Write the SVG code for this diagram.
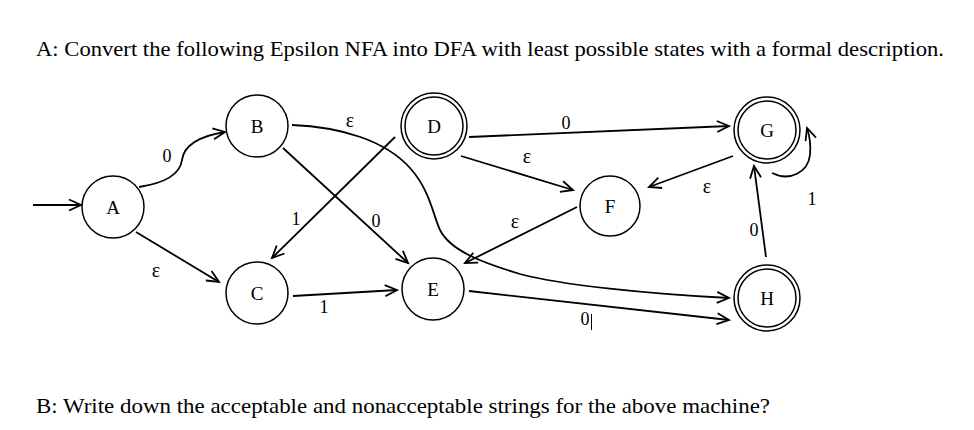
<svg xmlns="http://www.w3.org/2000/svg" width="974" height="430" viewBox="0 0 974 430">
<defs>
<marker id="arr" markerUnits="userSpaceOnUse" markerWidth="16" markerHeight="16" refX="13" refY="6" orient="auto" viewBox="0 0 16 12">
<path d="M1,0.5 L13,6 L1,11.5" fill="none" stroke="#000" stroke-width="1.8"/>
</marker>
<style>
.n{fill:#fff;stroke:#000;stroke-width:1.5}
.e{fill:none;stroke:#000;stroke-width:1.8;marker-end:url(#arr)}
.t{font-family:"Liberation Serif","Times New Roman",serif;font-size:19px;fill:#000;text-anchor:middle}
.l{font-family:"Liberation Serif","Times New Roman",serif;font-size:18px;fill:#000;text-anchor:middle}
.ep{font-size:20px}
.h{font-family:"Liberation Serif","Times New Roman",serif;font-size:21px;fill:#000}
</style>
</defs>
<rect width="974" height="430" fill="#fff"/>
<text class="h" x="36" y="56" textLength="908" lengthAdjust="spacingAndGlyphs">A: Convert the following Epsilon NFA into DFA with least possible states with a formal description.</text>
<text class="h" x="36" y="413" textLength="734" lengthAdjust="spacingAndGlyphs">B: Write down the acceptable and nonacceptable strings for the above machine?</text>
<g id="connectors">
<path class="e" d="M33,205 L81,205"/>
<path class="e" d="M139,187 C165,183 180,175 182,160 C184,145 200,136 225,132"/>
<path class="e" d="M136,232 L219,282"/>
<path class="e" d="M283,148 L408,263"/>
<path class="e" d="M395,137 L272,258"/>
<path class="e" d="M292,125 C340,127 385,140 410,168 C430,190 433,215 440,230 C450,250 480,262 520,274 C560,285 650,294 729,298"/>
<path class="e" d="M469,137 L729,126"/>
<path class="e" d="M461,156 L573,190"/>
<path class="e" d="M577,207 L465,263"/>
<path class="e" d="M733,156 L649,187"/>
<path class="e" d="M293,296 L397,290"/>
<path class="e" d="M469,291 L729,320"/>
<path class="e" d="M766,257 L754,166"/>
<path class="e" d="M772,173 C790,182 808,172 810,155 C811,145 810,137 807,128"/>
<text class="l" x="167" y="162">0</text>
<text class="l ep" x="156" y="277">ε</text>
<text class="l" x="296" y="225">1</text>
<text class="l ep" x="350" y="127">ε</text>
<text class="l" x="376" y="227">0</text>
<text class="l" x="324" y="313">1</text>
<text class="l" x="566" y="129">0</text>
<text class="l ep" x="527" y="163">ε</text>
<text class="l ep" x="515" y="228">ε</text>
<text class="l ep" x="707" y="193">ε</text>
<text class="l" x="754" y="236">0</text>
<text class="l" x="812" y="205">1</text>
<text class="l" x="585" y="325">0</text>
<line x1="591.5" y1="314" x2="591.5" y2="330" stroke="#000" stroke-width="1"/>
</g>
<g id="A"><circle class="n" cx="113" cy="207" r="31"/><text class="t" x="113" y="214">A</text></g>
<g id="B"><circle class="n" cx="257" cy="126" r="31"/><text class="t" x="257" y="133">B</text></g>
<g id="C"><circle class="n" cx="257" cy="293" r="31"/><text class="t" x="257" y="300">C</text></g>
<g id="D"><circle class="n" cx="434" cy="126" r="33"/><circle class="n" cx="434" cy="126" r="29"/><text class="t" x="434" y="133">D</text></g>
<g id="E"><circle class="n" cx="433" cy="289" r="31"/><text class="t" x="433" y="296">E</text></g>
<g id="F"><circle class="n" cx="610" cy="206" r="30"/><text class="t" x="610" y="213">F</text></g>
<g id="G"><circle class="n" cx="767" cy="130" r="33"/><circle class="n" cx="767" cy="130" r="29"/><text class="t" x="767" y="137">G</text></g>
<g id="H"><circle class="n" cx="767" cy="298" r="33"/><circle class="n" cx="767" cy="298" r="29"/><text class="t" x="767" y="305">H</text></g>
</svg>
